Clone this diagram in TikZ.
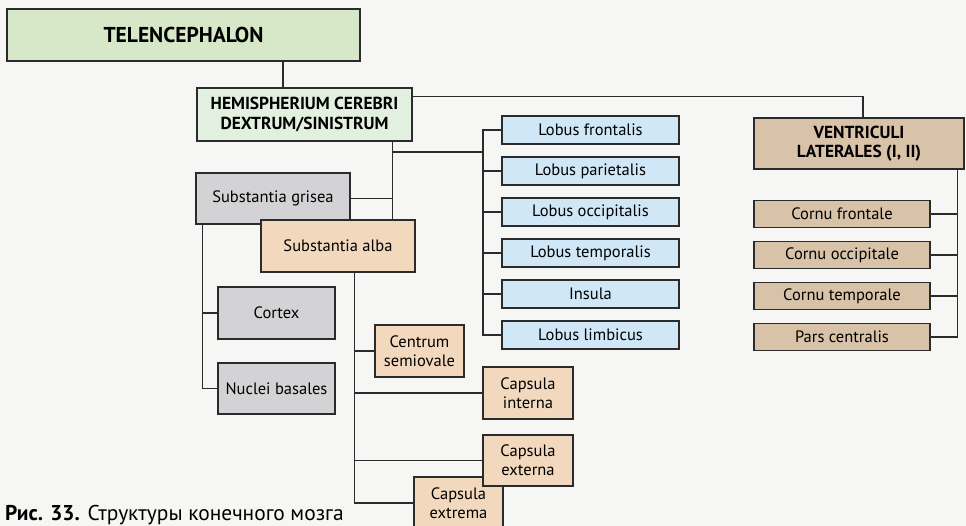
\documentclass[tikz,border=0pt]{standalone}
\usepackage{fontspec}
\setmainfont{PT Sans}
\definecolor{linec}{HTML}{2B2B2B}
\definecolor{telgreen}{HTML}{D6E8C8}
\definecolor{hemgreen}{HTML}{E2F0DF}
\definecolor{lobeblue}{HTML}{CFE7F6}
\definecolor{albapeach}{HTML}{F2D8BC}
\definecolor{grisgray}{HTML}{D3D3D5}
\definecolor{ventan}{HTML}{D8C2A8}
\definecolor{paper}{HTML}{F6F6F4}
\newcommand{\boxfont}{\fontsize{16.5bp}{19bp}\selectfont}
\newcommand{\headfont}{\fontsize{17.4bp}{19.5bp}\selectfont\bfseries}
\begin{document}
\begin{tikzpicture}[x=1bp, y=-1bp, node distance=41bp,
  box/.style={draw=linec, line width=1.1bp, inner sep=0pt, align=center, font=\boxfont},
  telbox/.style={box, fill=telgreen, minimum width=353bp, minimum height=52bp, font=\fontsize{21.5bp}{24bp}\selectfont\bfseries},
  hemibox/.style={box, fill=hemgreen, font=\headfont},
  ventbox/.style={box, fill=ventan, font=\headfont},
  lobebox/.style={box, fill=lobeblue, minimum width=177bp, minimum height=28bp},
  cornubox/.style={box, fill=ventan, minimum width=176bp, minimum height=27bp},
  greybox/.style={box, fill=grisgray},
  albabox/.style={box, fill=albapeach},
  link/.style={draw=linec, line width=1.1bp}]
\useasboundingbox (0,0) rectangle (966,526);
\clip (0,0) rectangle (966,526);
\fill[paper] (0,0) rectangle (966,526);

% top levels
\node[telbox] (tel) at (183.5,35) {TELENCEPHALON};
\node[hemibox, minimum width=215bp, minimum height=53bp] (hem) at (304.5,114.5) {HEMISPHERIUM CEREBRI\\DEXTRUM/SINISTRUM};
\node[ventbox, minimum width=210bp, minimum height=51bp] (ven) at (859,143.5) {VENTRICULI\\LATERALES (I, II)};

% lobes
\node[lobebox] (lf) at (590.5,130) {Lobus frontalis};
\node[lobebox, below of=lf] (lp) {Lobus parietalis};
\node[lobebox, below of=lp] (lo) {Lobus occipitalis};
\node[lobebox, below of=lo] (lt) {Lobus temporalis};
\node[lobebox, below of=lt] (ins) {Insula};
\node[lobebox, below of=ins] (ll) {Lobus limbicus};

% ventricles
\node[cornubox] (cf) at (842,214) {Cornu frontale};
\node[cornubox, below of=cf] (co) {Cornu occipitale};
\node[cornubox, below of=co] (ct) {Cornu temporale};
\node[cornubox, below of=ct] (pc) {Pars centralis};

% grey and white matter
\node[greybox, minimum width=154bp, minimum height=51bp] (gri) at (273,198.5) {Substantia grisea};
\node[albabox, minimum width=154bp, minimum height=52bp] (alb) at (338,246) {Substantia alba};
\node[greybox, minimum width=117bp, minimum height=52bp] (cx) at (276.5,313) {Cortex};
\node[greybox, minimum width=117bp, minimum height=51bp] (nb) at (276.5,388.5) {Nuclei basales};
\node[albabox, minimum width=89bp, minimum height=52bp] (csv) at (419.5,351) {Centrum\\semiovale};
\node[albabox, minimum width=90bp, minimum height=52bp] (cin) at (528,393) {Capsula\\interna};
\node[albabox, minimum width=89bp, minimum height=52bp] (cex) at (458.5,503) {Capsula\\extrema};
\node[albabox, minimum width=90bp, minimum height=51bp] (cxt) at (528,460.5) {Capsula\\externa};

% caption
\node[anchor=base west, inner sep=0pt, font=\fontsize{21.4bp}{23bp}\selectfont] (cap) at (5,520.5) {\textbf{Рис. 33.} Структуры конечного мозга};

% connectors
\draw[link] ([xshift=-21.5bp]hem.north) -- ([xshift=-21.5bp]hem.north |- tel.south);
\draw[link] ([yshift=-9bp]hem.north east) -| ([xshift=4bp]ven.north);
\coordinate (hbus) at ([xshift=-20bp]hem.south east);
\draw[link] (hbus) -- (hbus |- alb.north);
\draw[link] (gri.east) -- (gri.east -| hbus);
\coordinate (lbus) at (483,152);
\draw[link] (hbus |- lbus) -- (lbus);
\draw[link] (lf.west) -| (lbus |- ll.west) -- (ll.west);
\foreach \n in {lp,lo,lt,ins} \draw[link] (\n.west) -- (\n.west -| lbus);
\coordinate (vbus) at ([xshift=-7bp]ven.south east);
\draw[link] (vbus) |- (pc.east);
\foreach \n in {cf,co,ct} \draw[link] (\n.east) -- (\n.east -| vbus);
\coordinate (gbus) at ([xshift=7bp]gri.south west);
\draw[link] (gbus) |- (nb.west);
\draw[link] (cx.west) -- (cx.west -| gbus);
\coordinate (abus) at ([xshift=94bp]alb.south west);
\draw[link] (abus) |- (cex.west);
\foreach \n in {csv,cin,cxt} \draw[link] (\n.west) -- (\n.west -| abus);
\end{tikzpicture}
\end{document}
